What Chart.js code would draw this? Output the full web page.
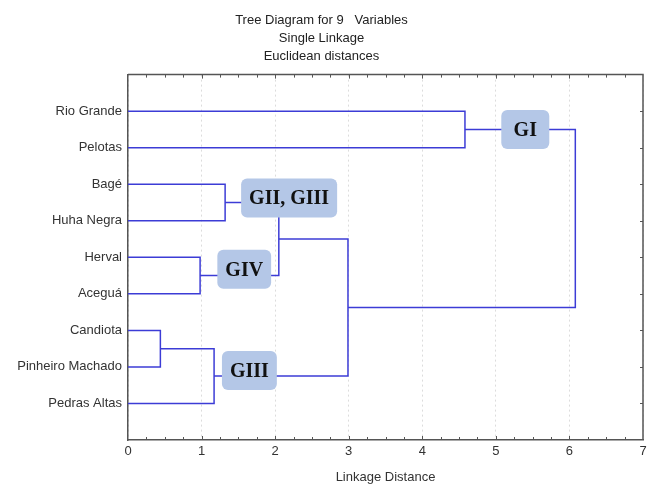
<!DOCTYPE html>
<html>
<head>
<meta charset="utf-8">
<script src="https://cdn.jsdelivr.net/npm/chart.js@4"></script>
<style>
html, body { margin: 0; padding: 0; background: #fff; }
#wrap { width: 647px; height: 485px; }
</style>
</head>
<body>
<div id="wrap"><canvas id="dendro"></canvas></div>
<script>
// dendrogramme - liaison simple, distances euclidiennes

const variables = ['Rio Grande', 'Pelotas', 'Bagé', 'Huha Negra', 'Herval', 'Aceguá', 'Candiota', 'Pinheiro Machado', 'Pedras Altas'];
// chaque fusion joint deux groupes : feuille 0-8, groupe fusionné 9+k
const mergeLeft   = [6, 4, 9, 2, 12, 13, 0, 15];
const mergeRight  = [7, 5, 8, 3, 10, 11, 1, 14];
const mergeHeight = [0.44, 0.98, 1.17, 1.32, 2.05, 2.99, 4.58, 6.08];
const distanceTicks = [0, 1, 2, 3, 4, 5, 6, 7];
const groupLabels = ['GI', 'GII, GIII', 'GIV', 'GIII'];
const groupAt = [[5.40, 0.5], [2.19, 2.38], [1.58, 4.33], [1.65, 7.1]];

const LINE = '#3c3cd6';
const FRAME = '#555';

function construireLiens() {
    const nodes = variables.map((v, i) => ({ x: 0, y: i }));
    const sets = [];
    mergeHeight.forEach((h, k) => {
        const a = nodes[mergeLeft[k]];
        const b = nodes[mergeRight[k]];
        nodes.push({ x: h, y: (a.y + b.y) / 2 });
        sets.push({
            data: [
                { x: a.x, y: a.y },
                { x: h, y: a.y },
                { x: h, y: b.y },
                { x: b.x, y: b.y }
            ],
            showLine: true,
            borderColor: LINE,
            borderWidth: 1.5,
            pointRadius: 0,
            tension: 0,
            fill: false
        });
    });
    return sets;
}

const cadrePlugin = {
    id: 'cadre',
    afterDatasetsDraw(chart) {
        const { ctx, scales: { x, y } } = chart;
        ctx.save();
        ctx.font = 'bold 20px "Liberation Serif"';
        ctx.textAlign = 'center';
        ctx.textBaseline = 'middle';
        groupLabels.forEach((txt, i) => {
            const cx = x.getPixelForValue(groupAt[i][0]);
            const cy = y.getPixelForValue(groupAt[i][1]);
            const w = Math.max(ctx.measureText(txt).width + 16, 48);
            const h = 39;
            ctx.fillStyle = '#b4c7e7';
            ctx.beginPath();
            ctx.roundRect(cx - w / 2, cy - h / 2, w, h, 6);
            ctx.fill();
            ctx.fillStyle = '#111';
            ctx.fillText(txt, cx, cy + 1);
        });
        ctx.restore();
    },
    afterDraw(chart) {
        const { ctx, chartArea: a, scales: { x, y } } = chart;
        ctx.save();
        ctx.strokeStyle = FRAME;
        ctx.lineWidth = 1.5;
        ctx.beginPath();
        ctx.moveTo(a.left, a.top);
        ctx.lineTo(a.right, a.top);
        ctx.lineTo(a.right, a.bottom);
        ctx.stroke();
        ctx.lineWidth = 1;
        ctx.beginPath();
        for (let v = 0.25; v < 7; v += 0.25) {
            const px = Math.round(x.getPixelForValue(v)) + 0.5;
            const len = Number.isInteger(v) ? 4 : 3;
            ctx.moveTo(px, a.bottom);
            ctx.lineTo(px, a.bottom - len);
            ctx.moveTo(px, a.top);
            ctx.lineTo(px, a.top + len);
        }
        variables.forEach((v, i) => {
            const py = Math.round(y.getPixelForValue(i)) + 0.5;
            ctx.moveTo(a.right, py);
            ctx.lineTo(a.right - 3, py);
        });
        ctx.stroke();
        ctx.restore();
    }
};

new Chart(document.getElementById('dendro'), {
    type: 'scatter',
    data: { datasets: construireLiens() },
    plugins: [cadrePlugin],
    options: {
        responsive: true,
        maintainAspectRatio: false,
        animation: false,
        layout: { padding: { left: 0, right: 4, top: 0, bottom: 0 } },
        plugins: {
            legend: { display: false },
            tooltip: { enabled: false },
            title: {
                display: true,
                text: ['Tree Diagram for 9   Variables', 'Single Linkage', 'Euclidean distances'],
                color: '#222',
                font: { family: '"Liberation Sans", Arial, sans-serif', size: 13, weight: 'normal', lineHeight: 1.4 },
                padding: { top: 11, bottom: 9 }
            }
        },
        scales: {
            x: {
                type: 'linear',
                min: 0,
                max: 7,
                afterFit(scale) {
                    scale.height = 45;
                    scale.paddingRight = 0;
                },
                afterBuildTicks(scale) { scale.ticks = distanceTicks.map(v => ({ value: v })); },
                ticks: {
                    color: '#333',
                    padding: 4,
                    font: { family: '"Liberation Sans", Arial, sans-serif', size: 13 }
                },
                grid: { color: '#dcdcdc', drawTicks: false },
                border: { color: FRAME, width: 1.5, dash: [2, 3] },
                title: {
                    display: true,
                    text: 'Linkage Distance',
                    color: '#333',
                    font: { family: '"Liberation Sans", Arial, sans-serif', size: 13 },
                    padding: { top: 4, bottom: 0 }
                }
            },
            y: {
                type: 'linear',
                min: -1,
                max: 9,
                reverse: true,
                afterFit(scale) { scale.width = 128; },
                ticks: {
                    stepSize: 1,
                    autoSkip: false,
                    color: '#333',
                    padding: 6,
                    font: { family: '"Liberation Sans", Arial, sans-serif', size: 13 },
                    callback: v => variables[v] || ''
                },
                grid: { display: false, drawTicks: false },
                border: { color: FRAME, width: 1.5 }
            }
        }
    }
});
</script>
</body>
</html>
